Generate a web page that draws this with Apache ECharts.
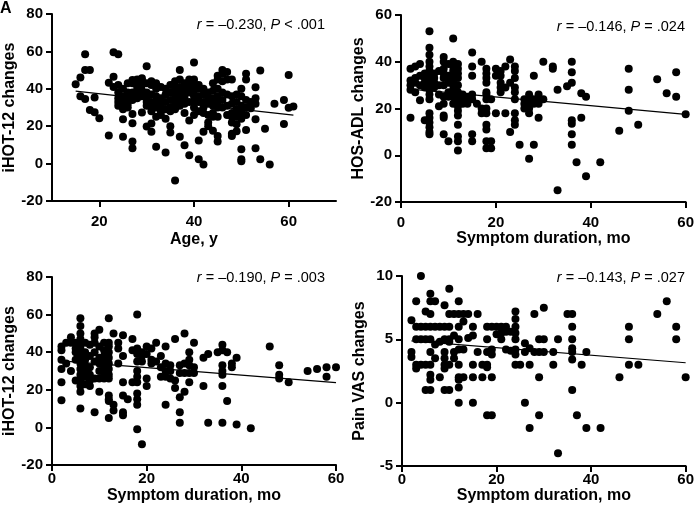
<!DOCTYPE html>
<html>
<head>
<meta charset="utf-8">
<script src="https://cdn.jsdelivr.net/npm/echarts@6.0.0/dist/echarts.min.js"></script>
<style>
  html, body { margin: 0; padding: 0; background: #fff; }
  #main { width: 697px; height: 515px; }
</style>
</head>
<body>
<div id="main"></div>
<script>
// values grouped by x: [x, [y, y, ...]]
const ageVsIhot = [
  [15, [42.4]], [16, [46, 36]], [17, [58.5, 50, 34.5]], [18, [50, 28.7]], [19, [35.3, 27.5]],
  [20, [24.3]], [22, [43.3, 15]], [23, [59.5, 46.5, 41]], [24, [58.5, 42, 38, 35, 33, 31]],
  [25, [40, 36, 33, 30.5, 29, 23.7, 14.4]], [26, [43, 38, 35, 32, 30]],
  [27, [44.7, 43, 38, 36, 34, 26.5, 21.6, 11.8, 8.2]], [28, [45, 44, 41, 39, 37, 35]],
  [29, [45.6, 44, 42, 39, 36, 27.3]], [30, [52, 43, 38, 35, 33, 31, 19.8]],
  [31, [44, 42, 37, 33, 30, 28, 21.5, 17]], [32, [43, 40, 36, 32, 30, 25, 9]],
  [33, [41, 35, 31, 28, 26]], [34, [40, 37, 33, 29, 24, 5.9]], [35, [42, 38, 34, 30, 28, 20, 16.6]],
  [36, [44, 40, 37, 35, 32, 29, -9]], [37, [50, 45, 41, 38, 36, 34, 31, 14.4]],
  [38, [43, 40, 37, 35, 32, 27, 9.8]], [39, [45, 42, 40, 38, 33, 23, 4.5]],
  [40, [54, 45, 43, 41, 39, 36, 33, 30, 26]], [41, [42, 40, 36, 33, 28, 12.3, 2.3]],
  [42, [40, 37, 33, 30, 27, 17, -0.5]], [43, [38, 35, 32, 26, 22, 20]],
  [44, [43, 39, 35, 31, 27, 25, 17.6]], [45, [47, 45, 40, 36, 33, 30, 25, 14.8, 11.8]],
  [46, [50, 48, 44, 38, 34, 30]], [47, [49, 45, 37, 31, 26]], [48, [45, 36, 32, 27, 25, 22, 16, 14.8]],
  [49, [37, 33, 29, 25, 21, 17.3]], [50, [40, 36, 31, 27, 24, 7.7, 2.3, 1.2]],
  [51, [48, 45, 34, 30, 26, 18]], [52, [33, 29.6]], [53, [40.8, 35, 32, 23.7, 8.2]],
  [54, [49.8, 2.3]], [55, [18.7]], [56, [-0.5]], [57, [32]], [59, [34, 21.2]], [60, [47.4, 29.8]], [61, [30.5]]
];
const durVsHosAdl = [
  [2, [37, 32, 30, 28, 16]], [3, [38, 33, 31, 27]], [4, [39, 34, 30, 23.5]], [5, [35, 33, 31, 29, 15]],
  [6, [53, 46, 43, 40, 38, 36, 34, 32, 30, 28, 26, 24, 18, 16, 14, 12, 10, 9]], [7, [35, 33, 31, 29]],
  [8, [36, 30, 26, 21]], [9, [42, 40, 37, 35, 33, 30, 25, 22, 17, 16, 9]], [10, [39, 34, 31, 27, 25, 6]],
  [11, [50, 40, 38, 36, 34, 32, 30, 28, 25, 22]],
  [12, [39, 37, 35, 33, 30, 27, 25, 23, 21, 19, 17, 13, 8, 6, 2]], [13, [26, 24, 22]], [14, [25, 22]],
  [15, [44, 38, 34, 26, 24, 9, 6]], [16, [22]], [17, [40, 20, 18]],
  [18, [37, 35, 33, 31, 27, 26, 24, 20, 18, 13, 11, 6, 3]], [19, [24, 6, 3]], [20, [37, 34, 18]],
  [21, [36, 34, 31, 29, 27]], [22, [38, 29, 18]], [23, [41, 31, 10]], [24, [38, 36, 33, 29, 27, 24, 18, 15, 13]],
  [25, [4.5]], [26, [24, 22, 20]], [27, [26, 23, 20, 18, -1.5]], [28, [34, 24, 22, 4.5]], [29, [26, 24, 22, 16]],
  [30, [40, 24]], [32, [38, 37]], [33, [28, -15]], [35, [29.5]], [36, [40, 35.5, 31, 15, 13.5, 9, 4.5]],
  [37, [-3]], [38, [26.5, 16]], [39, [25, -9]], [42, [-3]], [46, [10.5]], [48, [37, 28, 19]], [50, [13]],
  [54, [32.5]], [56, [26.5]], [58, [35.5, 25]], [60, [17.5]]
];
const durVsIhot = [
  [2, [43, 41, 36, 31, 24, 14.5]], [3, [45, 34]], [4, [48, 45, 30]], [5, [45, 42, 40, 36, 25]],
  [6, [58, 54, 50, 47, 44, 42, 40, 37, 34, 31, 28, 25, 22, 19, 10]], [7, [45, 40, 36, 33, 30, 27, 23]],
  [8, [44, 38, 32, 28, 25, 22]], [9, [50, 48, 45, 40, 35, 26, 8]], [10, [52, 43, 37, 34, 30, 26, 19]],
  [11, [45, 41, 38, 35, 32, 30, 28, 26]], [12, [58, 45, 43, 40, 37, 34, 31, 28, 26, 17, 15, 14, 5]],
  [13, [50, 12, 9]], [14, [45, 42, 34]], [15, [49, 38, 24, 17, 8, 6.5]], [16, [15]], [17, [47, 41, 24]],
  [18, [60, 42, 39, 35, 30, 27, 24, 18, 15, 12, -1]], [19, [40, 38, 35, -9]], [20, [43, 39, 26, 22]],
  [21, [42, 36, 34]], [22, [45, 35]], [23, [38, 32, 27]], [24, [43, 34, 30, 27, 12]], [25, [33, 30, 26]],
  [26, [47, 25, 21]], [27, [33, 29, 16, 8, 2.5]], [28, [50, 34, 29, 19]], [29, [40, 36, 33, 29, 24]],
  [30, [45, 32, 29]], [32, [37, 22]], [33, [39, 2.5]], [35, [40]], [36, [44, 41, 33, 30, 28, 22, 2.5]],
  [37, [40, 14]], [38, [34, 32]], [39, [37, 1.5]], [42, [-0.5]], [46, [43]], [48, [33, 28, 26]],
  [50, [24]], [54, [30]], [56, [31]], [58, [32, 27]], [60, [32]]
];
const durVsVas = [
  [2, [6.5, 4, 3.6]], [3, [8, 6, 5, 3, 2.7]], [4, [10, 6, 5, 3]], [5, [7.2, 6, 5, 3, 1]],
  [6, [8.6, 8, 7, 6, 5, 4, 3, 2.2, 1.8, 1]], [7, [8, 6, 4.6, 3.5]], [8, [6, 4.8, 2]],
  [9, [7.7, 6, 5, 4, 3.5, 3, 2.7, 1]], [10, [9, 7, 6, 5, 4.8, 3, 1]], [11, [7, 5.3, 4, 3.5]],
  [12, [8, 7, 6, 5, 4.2, 3, 2, 1.8, 1.2, 0]], [13, [7, 6.4, 4.2, 2]], [14, [7, 5.1]],
  [15, [6, 5.3, 3, 2, 0]], [16, [7, 4]], [17, [3, 2]], [18, [6, 5, 4, 3, 2.8, -1]],
  [19, [6, 4.2, 3.8, 2, -1]], [20, [6, 5.4]], [21, [6, 5.5, 5]], [22, [6, 5.6, 4.2]], [23, [5.6, 4.1]],
  [24, [7.2, 6.6, 6, 5.5, 5, 4.2, 3.8, 3]], [25, [3]], [26, [4.7, 4, 0]], [27, [4.3, 3, -2]], [28, [7, 4]],
  [29, [5, 4, 2, -1]], [30, [7.5, 5, 4]], [32, [4, 3]], [33, [5, -4]], [35, [7]],
  [36, [7, 6, 5, 4.3, 4, 3.4, 1]], [37, [-1]], [38, [3]], [39, [4, -2]], [42, [-2]], [46, [2]],
  [48, [6, 5, 3]], [50, [3]], [54, [7]], [56, [8]], [58, [6, 5]], [60, [2]]
];

// fitted line end points
const fitA = [[15, 38.8], [61, 25.9]];
const fitB = [[2, 28.3], [60, 17.5]];
const fitC = [[2, 35.4], [60, 23.8]];
const fitD = [[2, 4.88], [60, 3.15]];

const statA = ['r', ' = –0.230, ', 'P', ' < .001'];
const statB = ['r', ' = –0.146, ', 'P', ' = .024'];
const statC = ['r', ' = –0.190, ', 'P', ' = .003'];
const statD = ['r', ' = –0.143, ', 'P', ' = .027'];

const xTicksAge = [20, 40, 60];

function flat(groups) {
  const out = [];
  groups.forEach(g => g[1].forEach(v => out.push([g[0], v])));
  return out;
}

const font = '"Liberation Sans", Arial, sans-serif';
const lineSt = { color: '#000', width: 2 };

function xAxis(i, min, max, name, gap, margin, custom) {
  const ax = {
    type: 'value', gridIndex: i, min: min, max: max,
    name: name, nameLocation: 'middle', nameGap: gap,
    nameTextStyle: { fontFamily: font, fontWeight: 'bold', fontSize: 16, color: '#000' },
    axisLine: { show: true, onZero: false, lineStyle: lineSt },
    axisTick: { show: true, length: 6, lineStyle: lineSt },
    axisLabel: { fontFamily: font, fontWeight: 'bold', fontSize: 15, color: '#000', margin: margin },
    splitLine: { show: false }
  };
  if (custom) {
    ax.axisTick.customValues = custom;
    ax.axisLabel.customValues = custom;
  } else {
    ax.interval = 20;
  }
  return ax;
}

function yAxis(i, min, max, interval, name) {
  return {
    type: 'value', gridIndex: i, min: min, max: max, interval: interval,
    name: name, nameLocation: 'middle', nameGap: 34,
    nameTextStyle: { fontFamily: font, fontWeight: 'bold', fontSize: 16, color: '#000' },
    axisLine: { show: true, onZero: false, lineStyle: lineSt },
    axisTick: { show: true, length: 6, lineStyle: lineSt },
    axisLabel: { fontFamily: font, fontWeight: 'bold', fontSize: 15, color: '#000', margin: 9 },
    splitLine: { show: false }
  };
}

function dots(i, groups) {
  return {
    type: 'scatter', xAxisIndex: i, yAxisIndex: i, data: flat(groups),
    symbol: 'circle', symbolSize: 8, itemStyle: { color: '#000', opacity: 1 }, silent: true
  };
}

function fit(i, pts) {
  return {
    type: 'line', xAxisIndex: i, yAxisIndex: i, data: pts, symbol: 'none', z: 5,
    lineStyle: { color: '#000', width: 1.2 }, silent: true
  };
}

function stat(s, right, top) {
  return {
    text: '{i|' + s[0] + '}{n|' + s[1] + '}{i|' + s[2] + '}{n|' + s[3] + '}',
    right: right, top: top, padding: 0,
    textStyle: {
      fontWeight: 'normal',
      rich: {
        i: { fontFamily: font, fontStyle: 'italic', fontWeight: 'normal', fontSize: 14.5, color: '#000' },
        n: { fontFamily: font, fontWeight: 'normal', fontSize: 14.5, color: '#000' }
      }
    }
  };
}

const chart = echarts.init(document.getElementById('main'), null, { renderer: 'canvas' });
chart.setOption({
  animation: false,
  backgroundColor: '#fff',
  title: [
    { text: 'A', left: 0, top: 1, padding: 0, textStyle: { fontFamily: font, fontWeight: 'bold', fontSize: 16, color: '#000' } },
    stat(statA, 372, 17),
    stat(statB, 12, 19),
    stat(statC, 372, 270),
    stat(statD, 12, 270)
  ],
  grid: [
    { left: 52, top: 14, width: 284, height: 187 },
    { left: 401, top: 15, width: 285, height: 187 },
    { left: 52, top: 277, width: 284, height: 188 },
    { left: 402, top: 276, width: 287, height: 190 }
  ],
  xAxis: [
    xAxis(0, 10, 70, 'Age, y', 31, 13, xTicksAge),
    xAxis(1, 0, 60, 'Symptom duration, mo', 29, 13),
    xAxis(2, 0, 60, 'Symptom duration, mo', 23, 6),
    xAxis(3, 0, 60, 'Symptom duration, mo', 22, 6)
  ],
  yAxis: [
    yAxis(0, -20, 80, 20, 'iHOT-12 changes'),
    yAxis(1, -20, 60, 20, 'HOS-ADL changes'),
    yAxis(2, -20, 80, 20, 'iHOT-12 changes'),
    yAxis(3, -5, 10, 5, 'Pain VAS changes')
  ],
  series: [
    dots(0, ageVsIhot), fit(0, fitA),
    dots(1, durVsHosAdl), fit(1, fitB),
    dots(2, durVsIhot), fit(2, fitC),
    dots(3, durVsVas), fit(3, fitD)
  ]
});
</script>
</body>
</html>
